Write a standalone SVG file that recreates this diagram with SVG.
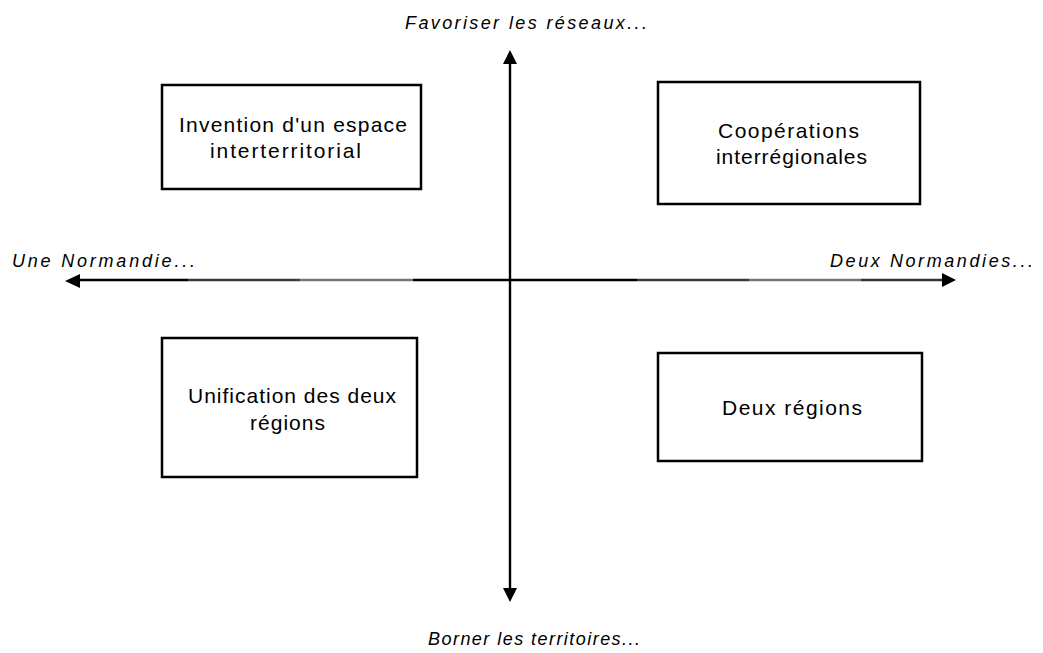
<svg xmlns="http://www.w3.org/2000/svg" width="1043" height="653" viewBox="0 0 1043 653">
<style>
.box{fill:#fff;stroke:#000;stroke-width:2.5}
.t{font-family:"Liberation Sans",Arial,sans-serif;font-size:21px;fill:#000;text-anchor:start}
.ax{font-family:"Liberation Sans",Arial,sans-serif;font-size:18px;font-style:italic;fill:#000}
.ln{stroke-width:2.4;fill:none}
</style>
<rect width="1043" height="653" fill="#fff"/>
<g id="connectors">
<line class="ln" x1="510" y1="62" x2="510" y2="589" stroke="#000"/>
<polygon points="510,50 503,64 517,64" fill="#000"/>
<polygon points="510,602 503,588 517,588" fill="#000"/>
<line class="ln" x1="78" y1="280" x2="188" y2="280" stroke="#000"/>
<line class="ln" x1="188" y1="280" x2="300" y2="280" stroke="#3a3a3a"/>
<line class="ln" x1="300" y1="280" x2="413" y2="280" stroke="#777"/>
<line class="ln" x1="413" y1="280" x2="637" y2="280" stroke="#000"/>
<line class="ln" x1="637" y1="280" x2="749" y2="280" stroke="#3a3a3a"/>
<line class="ln" x1="749" y1="280" x2="861" y2="280" stroke="#777"/>
<line class="ln" x1="861" y1="280" x2="944" y2="280" stroke="#333"/>
<polygon points="65,281 80,274 80,288" fill="#000"/>
<polygon points="956,280 942,273 942,287" fill="#000"/>
</g>
<g id="label-top"><text class="ax" x="405" y="29" textLength="242" lengthAdjust="spacing">Favoriser les réseaux...</text></g>
<g id="label-bottom"><text class="ax" x="428" y="645" textLength="212" lengthAdjust="spacing">Borner les territoires...</text></g>
<g id="label-left"><text class="ax" x="12" y="267" textLength="183" lengthAdjust="spacing">Une Normandie...</text></g>
<g id="label-right"><text class="ax" x="830" y="267" textLength="203" lengthAdjust="spacing">Deux Normandies...</text></g>
<g id="node-invention">
<rect class="box" x="162" y="85" width="259" height="104"/>
<text class="t" x="179" y="132" textLength="228" lengthAdjust="spacing">Invention d'un espace</text>
<text class="t" x="210" y="158" textLength="151" lengthAdjust="spacing">interterritorial</text>
</g>
<g id="node-cooperations">
<rect class="box" x="658" y="82" width="262" height="122"/>
<text class="t" x="718" y="138" textLength="141" lengthAdjust="spacing">Coopérations</text>
<text class="t" x="716" y="164" textLength="151" lengthAdjust="spacing">interrégionales</text>
</g>
<g id="node-unification">
<rect class="box" x="162" y="338" width="255" height="139"/>
<text class="t" x="188" y="403" textLength="208" lengthAdjust="spacing">Unification des deux</text>
<text class="t" x="250" y="430" textLength="75" lengthAdjust="spacing">régions</text>
</g>
<g id="node-deux-regions">
<rect class="box" x="658" y="353" width="264" height="108"/>
<text class="t" x="722" y="415" textLength="140" lengthAdjust="spacing">Deux régions</text>
</g>
</svg>
